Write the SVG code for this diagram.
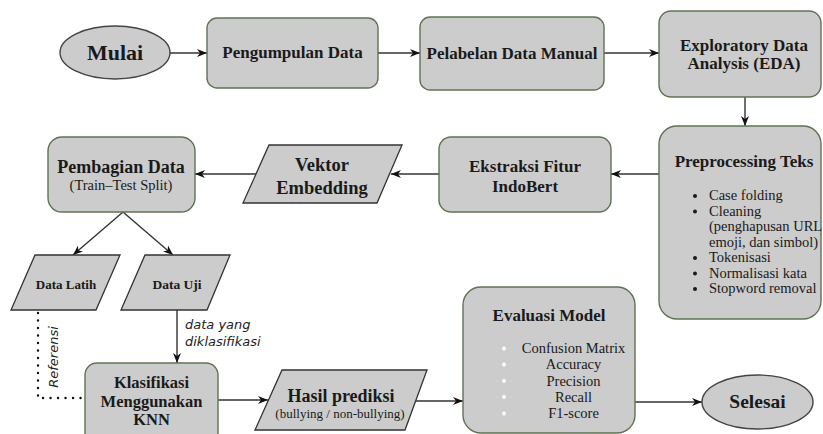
<svg xmlns="http://www.w3.org/2000/svg" width="823" height="434" viewBox="0 0 823 434">
<style>
.box{fill:#cccccc;stroke:#5f7353;stroke-width:1.4}
.par{fill:#cccccc;stroke:#333333;stroke-width:1.3}
.ell{fill:#cccccc;stroke:#444444;stroke-width:1.4}
.t{font-family:"Liberation Serif","Times New Roman",serif;fill:#1a1a1a;text-anchor:middle}
.b{font-weight:bold}
.l{font-family:"Liberation Serif","Times New Roman",serif;fill:#1a1a1a;font-size:14.5px}
.c{fill:none;stroke:#333333;stroke-width:1.4}
.it{font-family:"DejaVu Sans",sans-serif;font-style:italic;fill:#222222;font-size:13px}
</style>
<defs>
<marker id="ah" viewBox="0 0 10 8" refX="10" refY="4" markerWidth="10" markerHeight="8" markerUnits="userSpaceOnUse" orient="auto">
<path d="M0,0 L10,4 L0,8 L3,4 z" fill="#111111"/>
</marker>
</defs>

<g id="connectors">
<path class="c" d="M170,53 H207" marker-end="url(#ah)"/>
<path class="c" d="M378,53 H420" marker-end="url(#ah)"/>
<path class="c" d="M604,53 H659" marker-end="url(#ah)"/>
<path class="c" d="M745,97 V126" marker-end="url(#ah)"/>
<path class="c" d="M659,174 H611" marker-end="url(#ah)"/>
<path class="c" d="M439,174 H391" marker-end="url(#ah)"/>
<path class="c" d="M256,174 H195" marker-end="url(#ah)"/>
<path class="c" d="M123,212 L73,255" marker-end="url(#ah)"/>
<path class="c" d="M123,212 L173,255" marker-end="url(#ah)"/>
<path class="c" d="M177,310 V363" marker-end="url(#ah)"/>
<path d="M38,313 V398 H85" fill="none" stroke="#111111" stroke-width="2.4" stroke-linecap="round" stroke-dasharray="0.1 7.4"/>
<path class="c" d="M218,400 H268" marker-end="url(#ah)"/>
<path class="c" d="M416,401 H463" marker-end="url(#ah)"/>
<path class="c" d="M635,402 H702" marker-end="url(#ah)"/>
<text class="it" x="185" y="329">data yang</text>
<text class="it" x="185" y="346">diklasifikasi</text>
<text class="it" x="0" y="0" font-size="12" fill="#444444" text-anchor="middle" transform="translate(58,357) rotate(-90)">Referensi</text>
</g>

<g id="mulai">
<ellipse class="ell" cx="115" cy="52.5" rx="55" ry="26.5"/>
<text class="t b" x="115" y="59.5" font-size="22">Mulai</text>
</g>

<g id="pengumpulan">
<rect class="box" x="207" y="18" width="171" height="70" rx="10"/>
<text class="t b" x="292.5" y="58" font-size="17">Pengumpulan Data</text>
</g>

<g id="pelabelan">
<rect class="box" x="420" y="17" width="184" height="73" rx="10"/>
<text class="t b" x="512" y="59" font-size="17">Pelabelan Data Manual</text>
</g>

<g id="eda">
<rect class="box" x="659" y="11" width="162" height="86" rx="12"/>
<text class="t b" x="744" y="51" font-size="17">Exploratory Data</text>
<text class="t b" x="744" y="69" font-size="17">Analysis (EDA)</text>
</g>

<g id="preprocessing">
<rect class="box" x="659" y="126" width="162" height="193" rx="18"/>
<text class="t b" x="744" y="167" font-size="17">Preprocessing Teks</text>
<g fill="#1a1a1a">
<circle cx="695" cy="196" r="2"/>
<circle cx="695" cy="211.5" r="2"/>
<circle cx="695" cy="258" r="2"/>
<circle cx="695" cy="273.5" r="2"/>
<circle cx="695" cy="289" r="2"/>
</g>
<text class="l" x="709" y="200">Case folding</text>
<text class="l" x="709" y="215.5">Cleaning</text>
<text class="l" x="709" y="231">(penghapusan URL</text>
<text class="l" x="709" y="246.5">emoji, dan simbol)</text>
<text class="l" x="709" y="262">Tokenisasi</text>
<text class="l" x="709" y="277.5">Normalisasi kata</text>
<text class="l" x="709" y="293">Stopword removal</text>
</g>

<g id="ekstraksi">
<rect class="box" x="439" y="137" width="172" height="75" rx="12"/>
<text class="t b" x="525" y="172" font-size="17">Ekstraksi Fitur</text>
<text class="t b" x="525" y="192" font-size="17">IndoBert</text>
</g>

<g id="vektor">
<polygon class="par" points="269,145 402,145 377,203 243,203"/>
<text class="t b" x="322" y="171" font-size="18.5">Vektor</text>
<text class="t b" x="322" y="194" font-size="18.5">Embedding</text>
</g>

<g id="pembagian">
<rect class="box" x="48" y="137" width="147" height="75" rx="14"/>
<text class="t b" x="121" y="173" font-size="18">Pembagian Data</text>
<text class="t" x="121" y="190" font-size="14.5">(Train–Test Split)</text>
</g>

<g id="data-latih">
<polygon class="par" points="35,255 120,255 96,310 11,310"/>
<text class="t b" x="66" y="289" font-size="13">Data Latih</text>
</g>

<g id="data-uji">
<polygon class="par" points="145,255 230,255 207,310 121,310"/>
<text class="t b" x="177" y="289" font-size="13.5">Data Uji</text>
</g>

<g id="klasifikasi">
<rect class="box" x="85" y="363" width="133" height="82" rx="12"/>
<text class="t b" x="151.5" y="388" font-size="16.5">Klasifikasi</text>
<text class="t b" x="151.5" y="406.5" font-size="16.5">Menggunakan</text>
<text class="t b" x="151.5" y="425" font-size="16.5">KNN</text>
</g>

<g id="hasil">
<polygon class="par" points="282,370 427,370 405,430 255,430"/>
<text class="t b" x="341" y="402" font-size="18">Hasil prediksi</text>
<text class="t" x="340" y="418" font-size="13">(bullying / non-bullying)</text>
</g>

<g id="evaluasi">
<rect class="box" x="463" y="287" width="172" height="146" rx="18"/>
<text class="t b" x="549" y="321" font-size="17">Evaluasi Model</text>
<g fill="#ffffff">
<circle cx="504" cy="348.5" r="2"/>
<circle cx="504" cy="364.5" r="2"/>
<circle cx="504" cy="381" r="2"/>
<circle cx="504" cy="397" r="2"/>
<circle cx="504" cy="413.5" r="2"/>
</g>
<text class="t" x="573.5" y="353" font-size="14.5">Confusion Matrix</text>
<text class="t" x="573.5" y="369" font-size="14.5">Accuracy</text>
<text class="t" x="573.5" y="386" font-size="14.5">Precision</text>
<text class="t" x="573.5" y="402" font-size="14.5">Recall</text>
<text class="t" x="573.5" y="418" font-size="14.5">F1-score</text>
</g>

<g id="selesai">
<ellipse class="ell" cx="757.5" cy="402" rx="55.5" ry="27"/>
<text class="t b" x="757.5" y="408" font-size="19.5">Selesai</text>
</g>
</svg>
